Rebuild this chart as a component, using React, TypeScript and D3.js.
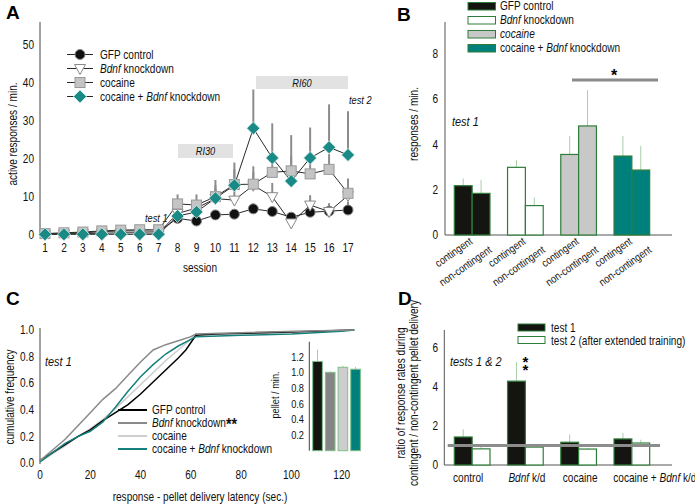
import React from "react";
import * as d3 from "d3";

// ---- panel A: active responses per session ----
const sessions = d3.range(1, 18);
const gfpA = [0.2, 0.3, 0.5, 0.8, 1.0, 1.0, 0.9, 4.3, 3.6, 5.2, 5.4, 6.8, 6.1, 4.6, 5.9, 6.2, 6.5];
const gfpAErr = [0, 0, 0, 0, 0, 0, 0, 1.0, 1.0, 1.0, 1.0, 1.4, 1.2, 1.2, 1.0, 1.4, 2.2];
const bdnfA = [0.1, 0.2, 0.3, 0.4, 0.5, 0.5, 0.4, 5.6, 7.0, 9.5, 9.1, 13.0, 10.0, 3.1, 7.8, 6.1, 10.3];
const bdnfAErr = [0, 0, 0, 0, 0, 0, 0, 2.0, 2.0, 2.5, 3.0, 3.5, 3.6, 2.0, 2.6, 2.2, 3.0];
const cocA = [0.3, 0.5, 0.7, 1.0, 1.2, 1.3, 1.3, 8.1, 7.8, 10.0, 13.2, 13.3, 16.4, 16.8, 16.0, 17.2, 10.9];
const cocAErr = [0, 0, 0, 0, 0, 0, 0, 2.5, 2.8, 3.0, 4.0, 4.7, 5.0, 4.0, 4.0, 4.0, 3.9];
const cbA = [0.1, 0.1, 0.1, 0.1, 0.1, 0.1, 0.1, 4.9, 6.0, 9.6, 13.0, 28.0, 20.2, 14.1, 20.2, 23.0, 21.0];
const cbAErr = [0, 0, 0, 0, 0, 0, 0, 3.0, 3.0, 4.8, 6.0, 10.2, 9.1, 12.1, 8.0, 11.3, 11.5];
const ticksA = [0, 10, 20, 30, 40, 50];

// ---- panel B: test 1 responses ----
const groupsB = ["gfp", "bdnf", "coc", "cb"];
const contB = [2.18, 2.99, 3.56, 3.49];
const contBErr = [0.32, 0.32, 0.82, 0.88];
const nonB = [1.84, 1.3, 4.82, 2.87];
const nonBErr = [0.6, 0.36, 1.58, 1.07];
const ticksB = [0, 2, 4, 6, 8];

// ---- panel C: cumulative latency ----
const latGfp = [[0, 0.02], [5, 0.08], [10, 0.14], [15, 0.2], [20, 0.25], [25, 0.32], [30, 0.38], [35, 0.44], [40, 0.52], [45, 0.61], [50, 0.7], [55, 0.79], [58, 0.85], [62, 0.96], [70, 0.97], [90, 0.98], [110, 0.99], [125, 1.0]];
const latBdnf = [[0, 0.02], [5, 0.1], [10, 0.18], [15, 0.28], [20, 0.38], [25, 0.48], [30, 0.56], [35, 0.66], [40, 0.76], [45, 0.85], [50, 0.89], [55, 0.92], [60, 0.95], [62, 0.97], [80, 0.98], [125, 1.0]];
const latCoc = [[0, 0.01], [5, 0.07], [10, 0.13], [15, 0.2], [20, 0.26], [25, 0.33], [30, 0.41], [35, 0.5], [40, 0.59], [45, 0.68], [50, 0.77], [55, 0.85], [60, 0.93], [62, 0.97], [125, 1.0]];
const latCb = [[0, 0.01], [5, 0.08], [10, 0.15], [15, 0.2], [20, 0.24], [25, 0.31], [30, 0.42], [35, 0.54], [40, 0.65], [45, 0.74], [50, 0.82], [55, 0.88], [60, 0.93], [62, 0.95], [80, 0.96], [100, 0.97], [120, 0.99], [125, 1.0]];
const ticksCx = [0, 20, 40, 60, 80, 100, 120];
const ticksCy = [0, 0.2, 0.4, 0.6, 0.8, 1.0];
const pellet = [1.14, 1.0, 1.065, 1.04];
const pelletErr = [0.15, 0.02, 0.02, 0.03];
const ticksInset = [0.2, 0.4, 0.6, 0.8, 1.0, 1.2];

// ---- panel D: ratio contingent / non-contingent ----
const groupsD = ["control", "bdnf", "cocaine", "cb"];
const test1D = [1.44, 4.31, 1.17, 1.34];
const test1DErr = [0.39, 0.99, 0.4, 0.31];
const test2D = [0.83, 0.92, 0.82, 1.13];
const test2DErr = [0.13, 0.05, 0.05, 0.17];
const ticksD = [0, 2, 4, 6];

const FONT = "Arial, 'Liberation Sans', sans-serif";
const SX = 0.84; // the figure uses a condensed sans
const BLACK = "#141411";
const TEAL = "#00807a";
const GREEN = "#2f7d3a";
const ERRG = "#a8cfa8";

const I = ({ children }: { children: React.ReactNode }) => <tspan fontStyle="italic">{children}</tspan>;

// condensed text helper
function T(props: { x: number; y: number; a?: string; s?: number; r?: number; it?: boolean; children: React.ReactNode }) {
  const { x, y, a = "start", s = 12, r = 0, it = false, children } = props;
  return (
    <text transform={`translate(${x},${y}) rotate(${r}) scale(${SX},1)`} textAnchor={a} fontSize={s} fontStyle={it ? "italic" : undefined} fill="#111">
      {children}
    </text>
  );
}

function Marker({ kind, x, y }: { kind: string; x: number; y: number }) {
  if (kind === "circle") return <circle cx={x} cy={y} r={5} fill="#111" stroke="#8a8a8a" strokeWidth={1} />;
  if (kind === "tri")
    return <path d={`M${x - 5.5},${y - 4} L${x + 5.5},${y - 4} L${x},${y + 6} Z`} fill="#fff" stroke="#8a8a8a" strokeWidth={1} />;
  if (kind === "square")
    return <rect x={x - 5} y={y - 5} width={10} height={10} fill="#c4c4c4" stroke="#999" strokeWidth={1} />;
  return <path d={`M${x},${y - 6.5} L${x + 6.5},${y} L${x},${y + 6.5} L${x - 6.5},${y} Z`} fill="#1a8a86" stroke="#d8ece8" strokeWidth={0.8} />;
}

function PanelA() {
  const x = d3.scaleLinear().domain([1, 17]).range([45, 348]);
  const y = d3.scaleLinear().domain([0, 50]).range([234.7, 44.7]);
  const series = [
    { name: "gfp", vals: gfpA, err: gfpAErr, kind: "circle" },
    { name: "bdnf", vals: bdnfA, err: bdnfAErr, kind: "tri" },
    { name: "coc", vals: cocA, err: cocAErr, kind: "square" },
    { name: "cb", vals: cbA, err: cbAErr, kind: "diamond" },
  ];
  const line = d3.line<number>().x((_, i) => x(sessions[i])).y((d) => y(d));
  const legend = [
    { kind: "circle", label: <tspan>GFP control</tspan> },
    { kind: "tri", label: <tspan><I>Bdnf</I> knockdown</tspan> },
    { kind: "square", label: <tspan>cocaine</tspan> },
    { kind: "diamond", label: <tspan>cocaine + <I>Bdnf</I> knockdown</tspan> },
  ];
  return (
    <g fontFamily={FONT}>
      <text x={6} y={19} fontWeight="bold" fontSize={19}>A</text>
      <line x1={40} x2={40} y1={22} y2={236} stroke="#444" strokeWidth={1} />
      {ticksA.map((t) => (
        <T key={t} x={34} y={y(t) + 4} a="end">{t}</T>
      ))}
      {sessions.map((s) => (
        <T key={s} x={x(s)} y={252} a="middle">{s}</T>
      ))}
      <T x={200} y={272} a="middle">session</T>
      <T x={17} y={134} r={-90} a="middle">active responses / min.</T>
      <rect x={178} y={144} width={55} height={14} fill="#e2e2e2" />
      <T x={205.5} y={155} a="middle" s={11} it>RI30</T>
      <rect x={256} y={76} width={92} height={13} fill="#e2e2e2" />
      <T x={302} y={86.5} a="middle" s={11} it>RI60</T>
      <T x={145} y={222} s={11} it>test 1</T>
      <T x={349} y={104} s={11} it>test 2</T>
      {series.map((s) =>
        s.vals.map((v, i) =>
          s.err[i] > 0 ? (
            <line key={s.name + i} x1={x(sessions[i])} x2={x(sessions[i])} y1={y(v)} y2={y(v + s.err[i])} stroke="#8c8c8c" strokeWidth={2} />
          ) : null
        )
      )}
      {series.map((s) => (
        <path key={s.name} d={line(s.vals) || ""} fill="none" stroke="#2a2a2a" strokeWidth={1} />
      ))}
      {series.map((s) => s.vals.map((v, i) => <Marker key={s.name + "m" + i} kind={s.kind} x={x(sessions[i])} y={y(v)} />))}
      {legend.map((l, i) => {
        const ly = 54.5 + i * 14;
        return (
          <g key={i}>
            <line x1={67} x2={93} y1={ly} y2={ly} stroke="#2a2a2a" strokeWidth={1} />
            <Marker kind={l.kind} x={80} y={ly} />
            <T x={100} y={ly + 4}>{l.label}</T>
          </g>
        );
      })}
    </g>
  );
}

const fillsB = [BLACK, "#ffffff", "#c8c8c8", TEAL];

function PanelB() {
  const y = d3.scaleLinear().domain([0, 8]).range([235, 54]);
  const xg = d3.scaleBand().domain(groupsB).range([445, 659]).paddingInner(0.33).paddingOuter(0.175);
  const xi = d3.scaleBand().domain(["c", "n"]).range([0, xg.bandwidth()]);
  const legend = [
    <tspan>GFP control</tspan>,
    <tspan><I>Bdnf</I> knockdown</tspan>,
    <tspan><I>cocaine</I></tspan>,
    <tspan>cocaine + <I>Bdnf</I> knockdown</tspan>,
  ];
  return (
    <g fontFamily={FONT}>
      <text x={397} y={21} fontWeight="bold" fontSize={19}>B</text>
      {legend.map((l, i) => (
        <g key={i}>
          <rect x={468} y={2.5 + i * 14} width={27.5} height={7.5} fill={fillsB[i]} stroke={GREEN} strokeWidth={1} />
          <T x={500} y={10 + i * 14}>{l}</T>
        </g>
      ))}
      <line x1={445} x2={445} y1={22} y2={235} stroke="#555" />
      <line x1={445} x2={672} y1={235} y2={235} stroke="#555" />
      {ticksB.map((t) => (
        <T key={t} x={438} y={y(t) + 4} a="end">{t}</T>
      ))}
      <T x={418} y={124} r={-90} a="middle">responses / min.</T>
      <T x={452} y={126} s={13} it>test 1</T>
      {groupsB.map((g, gi) => {
        const bars = [
          { k: "c", v: contB[gi], e: contBErr[gi] },
          { k: "n", v: nonB[gi], e: nonBErr[gi] },
        ];
        return bars.map((b) => {
          const bx = (xg(g) || 0) + (xi(b.k) || 0);
          const cx = bx + xi.bandwidth() / 2;
          return (
            <g key={g + b.k}>
              <line x1={cx} x2={cx} y1={y(b.v)} y2={y(b.v + b.e)} stroke={ERRG} strokeWidth={1} />
              <rect x={bx} y={y(b.v)} width={xi.bandwidth()} height={y(0) - y(b.v)} fill={fillsB[gi]} stroke={GREEN} strokeWidth={1.2} />
              {b.k === "c" ? (
                <T x={cx + 10} y={243} r={-35} a="end" s={11}>contingent</T>
              ) : (
                <T x={cx + 11.5} y={251.5} r={-35} a="end" s={11}>non-contingent</T>
              )}
            </g>
          );
        });
      })}
      <line x1={572} x2={658} y1={80} y2={80} stroke="#8a8a8a" strokeWidth={3} />
      <text x={614} y={81} textAnchor="middle" fontSize={16} fontWeight="bold">*</text>
    </g>
  );
}

function PanelC() {
  const x = d3.scaleLinear().domain([0, 120]).range([40, 341.7]);
  const y = d3.scaleLinear().domain([0, 1]).range([463.3, 330]);
  const line = d3.line<number[]>().x((d) => x(d[0])).y((d) => y(d[1]));
  const curves = [
    { d: latCoc, c: "#cfcfcf" },
    { d: latGfp, c: "#000" },
    { d: latCb, c: "#16807c" },
    { d: latBdnf, c: "#8a8a8a" },
  ];
  const yi = d3.scaleLinear().domain([0, 1.2]).range([450.7, 356.7]);
  const xb = d3.scaleBand().domain(["0", "1", "2", "3"]).range([309.3, 363.8]).paddingInner(0.24).paddingOuter(0.27);
  const insetFills = [BLACK, "#858585", "#cdcdcd", TEAL];
  const legend = [
    { c: "#000", label: <tspan>GFP control</tspan> },
    { c: "#8a8a8a", label: <tspan><I>Bdnf</I> knockdown<tspan fontSize={17} fontWeight="bold" dy={3}>**</tspan></tspan> },
    { c: "#cfcfcf", label: <tspan>cocaine</tspan> },
    { c: "#16807c", label: <tspan>cocaine + <I>Bdnf</I> knockdown</tspan> },
  ];
  return (
    <g fontFamily={FONT}>
      <text x={6} y={305} fontWeight="bold" fontSize={19}>C</text>
      <line x1={40} x2={40} y1={328} y2={464} stroke="#444" />
      {ticksCy.map((t) => (
        <T key={t} x={34} y={y(t) + 4} a="end">{t.toFixed(1)}</T>
      ))}
      {ticksCx.map((t) => (
        <T key={t} x={x(t)} y={479} a="middle">{t}</T>
      ))}
      <T x={200} y={501} a="middle">response - pellet delivery latency (sec.)</T>
      <T x={14} y={397} r={-90} a="middle">cumulative frequency</T>
      <T x={45} y={366} s={13} it>test 1</T>
      {curves.map((cv, i) => (
        <path key={i} d={line(cv.d) || ""} fill="none" stroke={cv.c} strokeWidth={1.5} />
      ))}
      {legend.map((l, i) => (
        <g key={i}>
          <line x1={118} x2={147} y1={410 + i * 13} y2={410 + i * 13} stroke={l.c} strokeWidth={2} />
          <T x={152} y={414 + i * 13}>{l.label}</T>
        </g>
      ))}
      <line x1={309.3} x2={309.3} y1={341.7} y2={450.7} stroke="#444" />
      {ticksInset.map((t) => (
        <T key={t} x={304} y={yi(t) + 4} a="end" s={11}>{t.toFixed(1)}</T>
      ))}
      <T x={279} y={395} r={-90} a="middle" s={11}>pellet / min.</T>
      {pellet.map((v, i) => {
        const bx = xb(String(i)) || 0;
        const cx = bx + xb.bandwidth() / 2;
        return (
          <g key={i}>
            <line x1={cx} x2={cx} y1={yi(v)} y2={yi(v + pelletErr[i])} stroke={ERRG} strokeWidth={1} />
            <rect x={bx} y={yi(v)} width={xb.bandwidth()} height={yi(0) - yi(v)} fill={insetFills[i]} stroke="#7fbf8a" strokeWidth={1} />
          </g>
        );
      })}
    </g>
  );
}

// horizontal nudges of the category labels as set in the figure
const labelShiftD = [-4, 1.5, 1.5, 23];

function PanelD() {
  const y = d3.scaleLinear().domain([0, 6]).range([465, 348.3]);
  const xg = d3.scaleBand().domain(groupsD).range([445, 659]).paddingInner(0.33).paddingOuter(0.175);
  const xi = d3.scaleBand().domain(["t1", "t2"]).range([0, xg.bandwidth()]);
  const labels = [
    <tspan>control</tspan>,
    <tspan><I>Bdnf</I> k/d</tspan>,
    <tspan>cocaine</tspan>,
    <tspan>cocaine + <I>Bdnf</I> k/d</tspan>,
  ];
  const bx1 = (xg("bdnf") || 0) + (xi("t1") || 0) + xi.bandwidth() / 2;
  return (
    <g fontFamily={FONT}>
      <text x={398} y={305} fontWeight="bold" fontSize={19}>D</text>
      <rect x={518} y={324} width={27} height={7} fill={BLACK} stroke={GREEN} />
      <T x={551} y={332}>test 1</T>
      <rect x={518} y={336.5} width={27} height={7} fill="#fff" stroke={GREEN} />
      <T x={551} y={344.5}>test 2 (after extended training)</T>
      <line x1={444.3} x2={444.3} y1={330} y2={465} stroke="#555" />
      <line x1={444.3} x2={672} y1={465} y2={465} stroke="#555" />
      {ticksD.map((t) => (
        <T key={t} x={438} y={y(t) + 4} a="end">{t}</T>
      ))}
      <T x={405} y={393} r={-90} a="middle">ratio of response rates during</T>
      <T x={418} y={393} r={-90} a="middle">contingent / non-contingent pellet delivery</T>
      <T x={450} y={366} s={13} it>tests 1 &amp; 2</T>
      {groupsD.map((g, gi) => {
        const bars = [
          { k: "t1", v: test1D[gi], e: test1DErr[gi], f: BLACK },
          { k: "t2", v: test2D[gi], e: test2DErr[gi], f: "#fff" },
        ];
        const gc = (xg(g) || 0) + xg.bandwidth() / 2;
        return (
          <g key={g}>
            {bars.map((b) => {
              const bx = (xg(g) || 0) + (xi(b.k) || 0);
              const cx = bx + xi.bandwidth() / 2;
              return (
                <g key={b.k}>
                  <line x1={cx} x2={cx} y1={y(b.v)} y2={y(b.v + b.e)} stroke={ERRG} strokeWidth={1} />
                  <rect x={bx} y={y(b.v)} width={xi.bandwidth()} height={y(0) - y(b.v)} fill={b.f} stroke={GREEN} strokeWidth={1.2} />
                </g>
              );
            })}
            <T x={gc + labelShiftD[gi]} y={482} a="middle">{labels[gi]}</T>
          </g>
        );
      })}
      <line x1={447.7} x2={660} y1={y(1)} y2={y(1)} stroke="#8c8c8c" strokeWidth={3} />
      <text x={bx1 + 9} y={y(test1D[1] + test1DErr[1]) + 5} textAnchor="middle" fontSize={15} fontWeight="bold">
        <tspan x={bx1 + 9}>*</tspan>
        <tspan x={bx1 + 9} dy={8}>*</tspan>
      </text>
    </g>
  );
}

export default function App() {
  return (
    <svg width={695} height={504} style={{ position: "absolute", left: 0, top: 0, background: "#fff" }}>
      <rect width={695} height={504} fill="#fff" />
      <PanelA />
      <PanelB />
      <PanelC />
      <PanelD />
    </svg>
  );
}
